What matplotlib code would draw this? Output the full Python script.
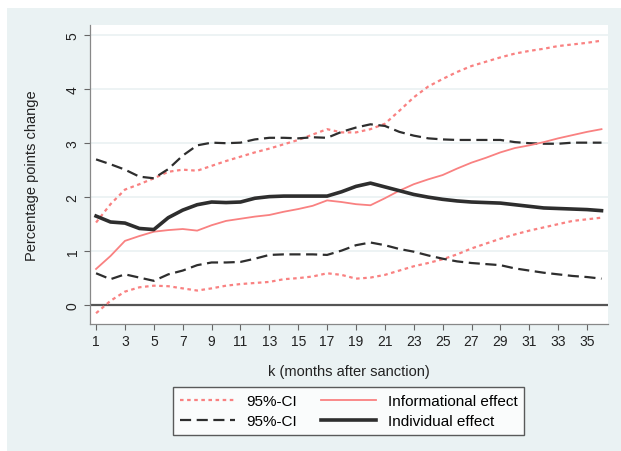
import matplotlib
matplotlib.use("Agg")
import matplotlib.pyplot as plt
from matplotlib.patches import Rectangle
import numpy as np

plt.rcParams['font.family'] = ['Liberation Sans', 'DejaVu Sans']

# months after sanction
k = list(range(1, 37))

# informational effect and its 95% CI
info = [0.67, 0.91, 1.19, 1.28, 1.36, 1.39, 1.41, 1.38, 1.48, 1.56, 1.60, 1.64,
        1.67, 1.73, 1.78, 1.84, 1.94, 1.91, 1.87, 1.85, 1.98, 2.12, 2.24, 2.33,
        2.41, 2.53, 2.64, 2.73, 2.83, 2.91, 2.96, 3.02, 3.09, 3.15, 3.21, 3.26]
info_hi = [1.53, 1.87, 2.14, 2.24, 2.35, 2.47, 2.51, 2.49, 2.58, 2.67, 2.75, 2.83,
           2.90, 2.98, 3.06, 3.16, 3.26, 3.20, 3.20, 3.26, 3.36, 3.60, 3.85, 4.05,
           4.19, 4.32, 4.43, 4.51, 4.59, 4.66, 4.71, 4.75, 4.80, 4.83, 4.86, 4.90]
info_lo = [-0.15, 0.08, 0.25, 0.33, 0.36, 0.35, 0.31, 0.27, 0.31, 0.36, 0.39, 0.41,
           0.43, 0.48, 0.50, 0.53, 0.59, 0.56, 0.49, 0.51, 0.56, 0.64, 0.72, 0.78,
           0.85, 0.94, 1.05, 1.14, 1.23, 1.31, 1.38, 1.44, 1.50, 1.56, 1.59, 1.62]

# individual effect and its 95% CI
indiv = [1.65, 1.54, 1.52, 1.42, 1.40, 1.62, 1.76, 1.86, 1.91, 1.90, 1.91, 1.98,
         2.01, 2.02, 2.02, 2.02, 2.02, 2.10, 2.20, 2.26, 2.19, 2.12, 2.05, 2.00,
         1.96, 1.93, 1.91, 1.90, 1.89, 1.86, 1.83, 1.80, 1.79, 1.78, 1.77, 1.75]
indiv_hi = [2.70, 2.61, 2.51, 2.38, 2.35, 2.52, 2.77, 2.96, 3.01, 3.00, 3.01, 3.07,
            3.10, 3.10, 3.09, 3.11, 3.10, 3.21, 3.29, 3.35, 3.32, 3.21, 3.14, 3.09,
            3.07, 3.06, 3.06, 3.06, 3.06, 3.02, 3.00, 2.99, 2.99, 3.01, 3.01, 3.01]
indiv_lo = [0.59, 0.48, 0.57, 0.51, 0.45, 0.57, 0.64, 0.74, 0.79, 0.79, 0.80, 0.86,
            0.93, 0.94, 0.94, 0.94, 0.93, 1.01, 1.11, 1.16, 1.11, 1.04, 0.99, 0.92,
            0.86, 0.81, 0.78, 0.76, 0.74, 0.68, 0.64, 0.60, 0.57, 0.54, 0.52, 0.49]

x_ticks = list(range(1, 36, 2))
y_ticks = [0, 1, 2, 3, 4, 5]

RED = "#f98181"
BLACK = "#2e2e2e"
PANEL = "#eaf2f3"

fig = plt.figure(figsize=(6.21, 4.52), dpi=100)
fig.patch.set_facecolor("white")
# stata-like outer panel
fig.patches.append(Rectangle((7 / 621, 0), 1 - 7 / 621, 1 - 9 / 452,
                             transform=fig.transFigure, facecolor=PANEL,
                             edgecolor="none", zorder=-10))

ax = fig.add_axes([90 / 621, 1 - 325 / 452, (608 - 90) / 621, (325 - 26) / 452])
ax.set_facecolor("white")

for y in y_ticks[1:]:
    ax.axhline(y, color="#eaf1f2", lw=1.2, zorder=0)
ax.axhline(0, color="#555555", lw=1.6, zorder=1)

l1, = ax.plot(k, info_hi, color=RED, lw=1.6, dashes=(1.6, 1.6), label="95%-CI")
ax.plot(k, info_lo, color=RED, lw=1.6, dashes=(1.6, 1.6))
l2, = ax.plot(k, indiv_hi, color=BLACK, lw=1.6, dashes=(5, 2.5), label="95%-CI")
ax.plot(k, indiv_lo, color=BLACK, lw=1.6, dashes=(5, 2.5))
l3, = ax.plot(k, info, color=RED, lw=1.3, label="Informational effect")
l4, = ax.plot(k, indiv, color=BLACK, lw=2.6, label="Individual effect")

ax.set_xlim(0.58, 36.45)
ax.set_ylim(-0.35, 5.19)
ax.set_xticks(x_ticks)
ax.set_yticks(y_ticks)
ax.tick_params(axis="both", labelsize=10, color="#666666", length=4, width=0.8,
               labelcolor="#222222")
for lab in ax.get_yticklabels():
    lab.set_rotation(90)
    lab.set_va("center")

for s in ["top", "right"]:
    ax.spines[s].set_visible(False)
for s in ["left", "bottom"]:
    ax.spines[s].set_color("#888888")
    ax.spines[s].set_linewidth(0.9)

ax.set_xlabel("k (months after sanction)", fontsize=10.5, color="#222222", labelpad=11)
ax.set_ylabel("Percentage points change", fontsize=10.5, color="#222222", labelpad=19)

leg = fig.legend(handles=[l1, l2, l3, l4], ncol=2, loc="center",
                 bbox_to_anchor=(348.5 / 621, 1 - 412 / 452), fontsize=11,
                 frameon=True, fancybox=False, handlelength=3.6,
                 columnspacing=1.6, handletextpad=0.75, borderpad=0.45,
                 labelspacing=0.4)
leg.get_frame().set_edgecolor("#333333")
leg.get_frame().set_linewidth(1.0)

fig.savefig("out.png", dpi=100, facecolor=fig.get_facecolor())
